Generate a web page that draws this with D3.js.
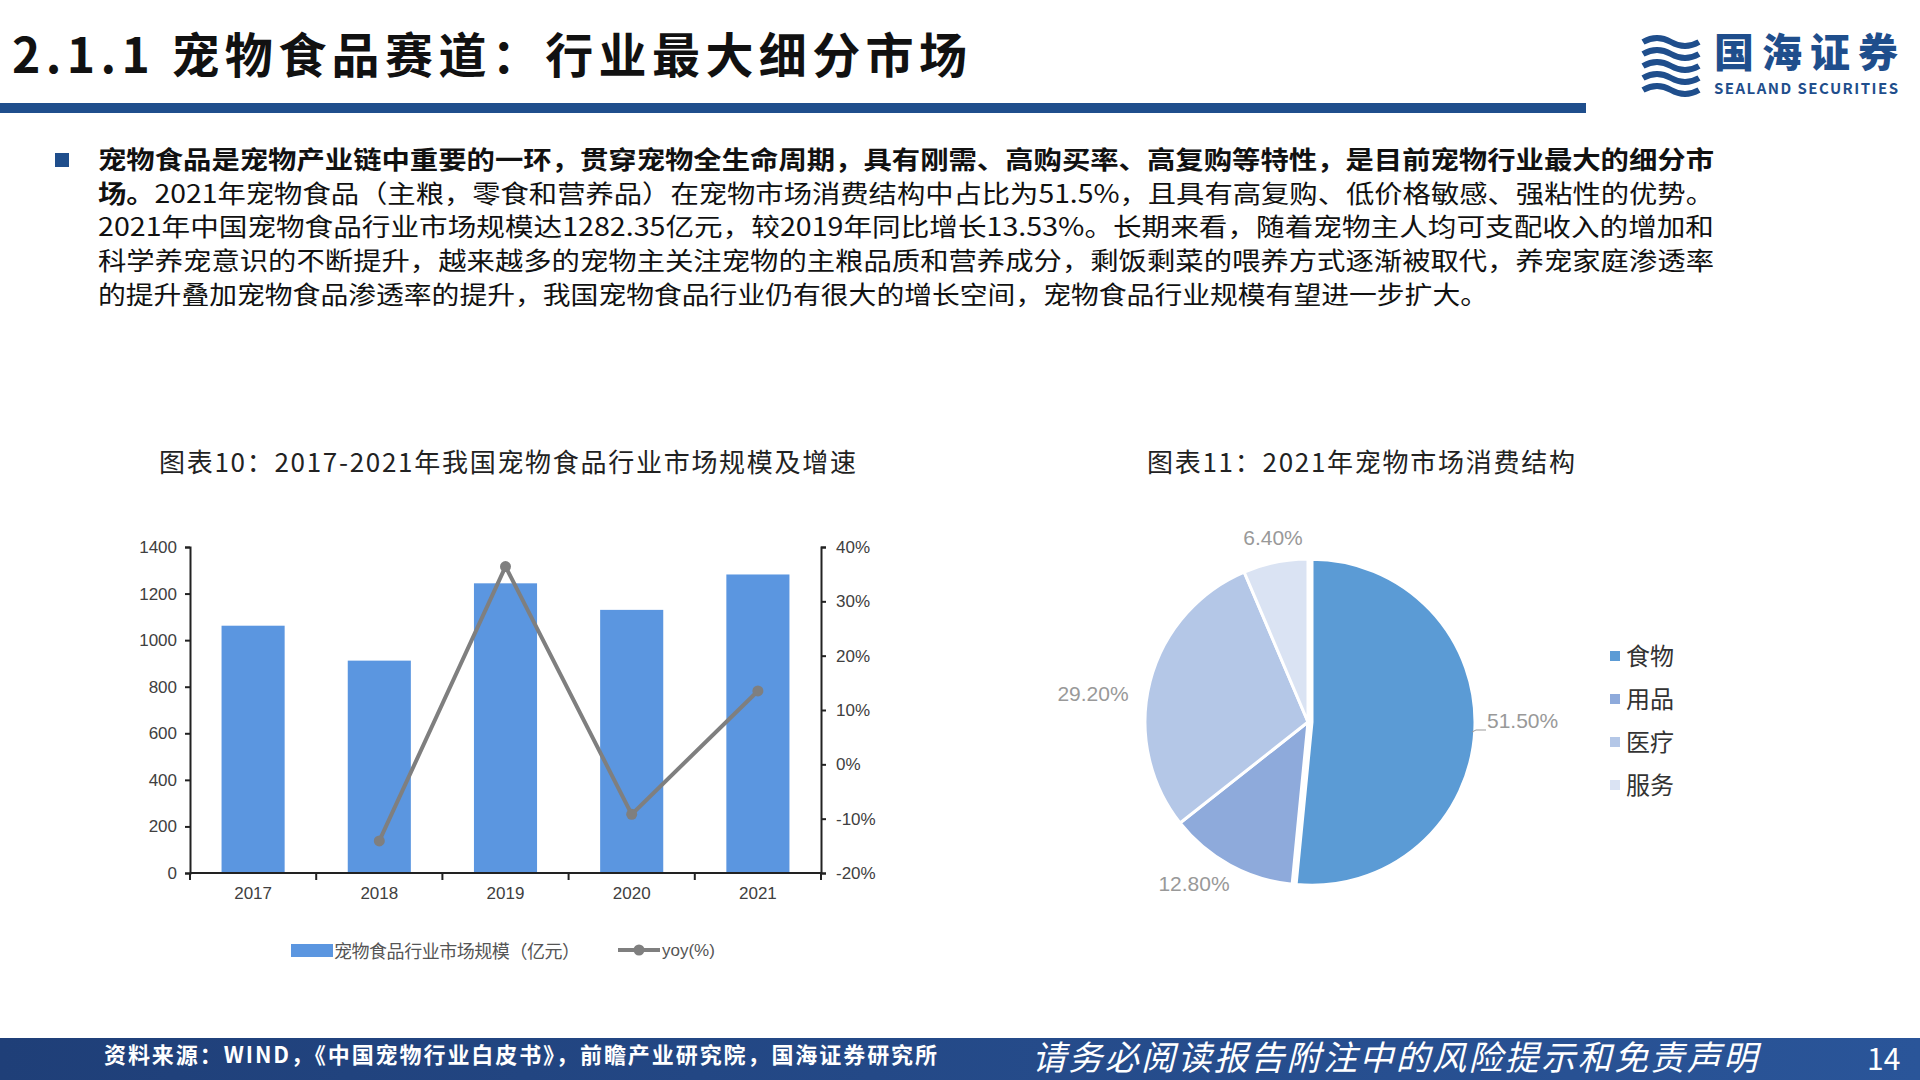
<!DOCTYPE html><html><head><meta charset="utf-8">
<script src="https://cdn.jsdelivr.net/npm/d3@7"></script>
<style>body{margin:0;background:#fff}svg{display:block}</style></head><body>
<svg id="s" width="1920" height="1080"></svg>
<script>
const years=["2017","2018","2019","2020","2021"];
const marketSize=[1062,912,1244,1130,1282];
const yoyYears=["2018","2019","2020","2021"];
const yoy=[-14.1,36.4,-9.2,13.5];
const leftTicks=[0,200,400,600,800,1000,1200,1400];
const rightTicks=[-20,-10,0,10,20,30,40];
const pieLabels=["食物","用品","医疗","服务"];
const pieValues=[51.5,12.8,29.2,6.4];
const pieColors=["#5b9bd5","#8eaadb","#b4c7e7","#dae3f3"];

const svg=d3.select("#s");
const F="'Noto Sans CJK SC','Noto Sans',sans-serif";
// header
svg.append("text").attr("x",12).attr("y",73).attr("font-family","'Noto Sans CJK SC',serif").attr("font-weight",700).attr("font-size",48).attr("fill","#111").attr("textLength",955).text("2.1.1 宠物食品赛道：行业最大细分市场");
svg.append("rect").attr("x",0).attr("y",103).attr("width",1586).attr("height",10).attr("fill","#1f4e8c");
const logo=svg.append("g");
logo.append("text").attr("x",1714).attr("y",67).attr("font-family",F).attr("font-weight",900).attr("font-size",40).attr("fill","#1f4e8c").attr("textLength",184).text("国海证券");
logo.append("text").attr("x",1714).attr("y",94).attr("font-family",F).attr("font-weight",700).attr("font-size",15).attr("fill","#1f4e8c").attr("textLength",184).text("SEALAND SECURITIES");
[0,1,2,3,4].forEach(i=>logo.append("path").attr("d",`M1643 ${42+i*12} q14 -8 28 0 q14 8 28 0`).attr("stroke","#1f4e8c").attr("stroke-width",6).attr("fill","none"));
// bullet text
svg.append("rect").attr("x",55).attr("y",153).attr("width",14).attr("height",14).attr("fill","#1f4e8c");
const lines=[
[["宠物食品是宠物产业链中重要的一环，贯穿宠物全生命周期，具有刚需、高购买率、高复购等特性，是目前宠物行业最大的细分市",1]],
[["场。",1],["2021年宠物食品（主粮，零食和营养品）在宠物市场消费结构中占比为51.5%，且具有高复购、低价格敏感、强粘性的优势。",0]],
[["2021年中国宠物食品行业市场规模达1282.35亿元，较2019年同比增长13.53%。长期来看，随着宠物主人均可支配收入的增加和",0]],
[["科学养宠意识的不断提升，越来越多的宠物主关注宠物的主粮品质和营养成分，剩饭剩菜的喂养方式逐渐被取代，养宠家庭渗透率",0]],
[["的提升叠加宠物食品渗透率的提升，我国宠物食品行业仍有很大的增长空间，宠物食品行业规模有望进一步扩大。",0]]];
lines.forEach((l,i)=>{const t=svg.append("text").attr("x",98).attr("y",169+i*33.7).attr("font-family",F).attr("font-size",25).attr("fill","#111");
 l.forEach(s=>t.append("tspan").attr("font-weight",s[1]?700:400).text(s[0]));
 t.attr("textLength",i<4?1616:1390).attr("lengthAdjust","spacingAndGlyphs");});
// chart titles
svg.append("text").attr("x",159).attr("y",472).attr("font-family",F).attr("font-size",26).attr("fill","#222").attr("textLength",697).text("图表10：2017-2021年我国宠物食品行业市场规模及增速");
svg.append("text").attr("x",1147).attr("y",472).attr("font-family",F).attr("font-size",26).attr("fill","#222").attr("textLength",428).text("图表11：2021年宠物市场消费结构");
// bar chart
const L=190,R=821,T=547,B=873;
const x=d3.scaleBand().domain(years).range([L,R]).paddingInner(0.5).paddingOuter(0.25);
const y=d3.scaleLinear().domain([0,1400]).range([B,T]);
const y2=d3.scaleLinear().domain([-20,40]).range([B,T]);
const g=svg.append("g");
g.selectAll("rect.b").data(marketSize).join("rect").attr("x",(d,i)=>x(years[i])).attr("y",d=>y(d)).attr("width",x.bandwidth()).attr("height",d=>B-y(d)).attr("fill","#5b96e0");
const ax=(sel)=>{sel.selectAll("text").attr("font-family","Arial,'Liberation Sans',sans-serif").attr("font-size",17).attr("fill","#404040");sel.selectAll("line,path").attr("stroke","#222").attr("stroke-width",2);};
g.append("g").attr("transform",`translate(${L},0)`).call(d3.axisLeft(y).tickValues(leftTicks).tickFormat(d=>d).tickSize(5).tickPadding(8)).call(ax);
g.append("g").attr("transform",`translate(${R},0)`).call(d3.axisRight(y2).tickValues(rightTicks).tickFormat(d=>d+"%").tickSize(5).tickPadding(10)).call(ax);
const xo=d3.scalePoint().domain(d3.range(6)).range([L,R]);
const xa=g.append("g").attr("transform",`translate(0,${B})`).call(d3.axisBottom(x).tickSize(0).tickPadding(14)).call(ax);
xa.select("path").attr("d",`M${L},0H${R}`);
xa.selectAll(".tk").data(d3.range(6)).join("line").attr("x1",d=>xo(d)).attr("x2",d=>xo(d)).attr("y1",0).attr("y2",7).attr("stroke","#222").attr("stroke-width",2);
const cx=d=>x(d)+x.bandwidth()/2;
g.append("path").attr("d",d3.line().x((d,i)=>cx(yoyYears[i])).y(d=>y2(d))(yoy)).attr("fill","none").attr("stroke","#7f7f7f").attr("stroke-width",4);
g.selectAll("circle").data(yoy).join("circle").attr("cx",(d,i)=>cx(yoyYears[i])).attr("cy",d=>y2(d)).attr("r",5.5).attr("fill","#7f7f7f");
// legend
svg.append("rect").attr("x",291).attr("y",944).attr("width",42).attr("height",13).attr("fill","#5b96e0");
svg.append("text").attr("x",334).attr("y",958).attr("font-family",F).attr("font-size",18).attr("fill","#555").attr("textLength",246).text("宠物食品行业市场规模（亿元）");
svg.append("line").attr("x1",618).attr("x2",660).attr("y1",950).attr("y2",950).attr("stroke","#7f7f7f").attr("stroke-width",4);
svg.append("circle").attr("cx",639).attr("cy",950).attr("r",5.5).attr("fill","#7f7f7f");
svg.append("text").attr("x",662).attr("y",956).attr("font-family","Arial,sans-serif").attr("font-size",17).attr("fill","#555").text("yoy(%)");
// pie
const pc=[1308,722],r=163;
const pie=d3.pie().sort(null)(pieValues);
const arc=d3.arc().innerRadius(0).outerRadius(r);
const pg=svg.append("g").attr("transform",`translate(${pc})`);
pg.selectAll("path").data(pie).join("path").attr("d",arc).attr("fill",(d,i)=>pieColors[i]).attr("stroke","#fff").attr("stroke-width",3)
 .attr("transform",(d,i)=>{if(i)return null;const a=(d.startAngle+d.endAngle)/2;return `translate(${Math.sin(a)*4},${-Math.cos(a)*4})`;});
const lp=[[1487,728,"start"],[1194,891,"middle"],[1093,701,"middle"],[1273,545,"middle"]];
pie.forEach((d,i)=>svg.append("text").attr("x",lp[i][0]).attr("y",lp[i][1]).attr("text-anchor",lp[i][2]).attr("font-family","Arial,sans-serif").attr("font-size",21).attr("fill","#999").text(pieValues[i].toFixed(2)+"%"));
svg.append("polyline").attr("points","1472,732 1476,730 1486,730").attr("fill","none").attr("stroke","#999");
pieLabels.forEach((n,i)=>{svg.append("rect").attr("x",1610).attr("y",651+i*43).attr("width",10).attr("height",10).attr("fill",pieColors[i]);
 svg.append("text").attr("x",1626).attr("y",665+i*43).attr("font-family",F).attr("font-size",24).attr("fill","#333").text(n);});
// footer
const gr=svg.append("defs").append("linearGradient").attr("id","fg");
gr.append("stop").attr("offset","0").attr("stop-color","#1f3f78");gr.append("stop").attr("offset","1").attr("stop-color","#2a5599");
svg.append("rect").attr("x",0).attr("y",1038).attr("width",1920).attr("height",42).attr("fill","url(#fg)");
svg.append("text").attr("x",104).attr("y",1063).attr("font-family",F).attr("font-weight",700).attr("font-size",22).attr("fill","#fff").attr("textLength",833).text("资料来源：WIND，《中国宠物行业白皮书》，前瞻产业研究院，国海证券研究所");
svg.append("text").attr("x",1032).attr("y",1070).attr("font-family",F).attr("font-style","italic").attr("font-size",34).attr("fill","#fff").attr("textLength",725).text("请务必阅读报告附注中的风险提示和免责声明");
svg.append("text").attr("x",1867).attr("y",1070).attr("font-family",F).attr("font-size",30).attr("fill","#fff").text("14");
</script></body></html>
